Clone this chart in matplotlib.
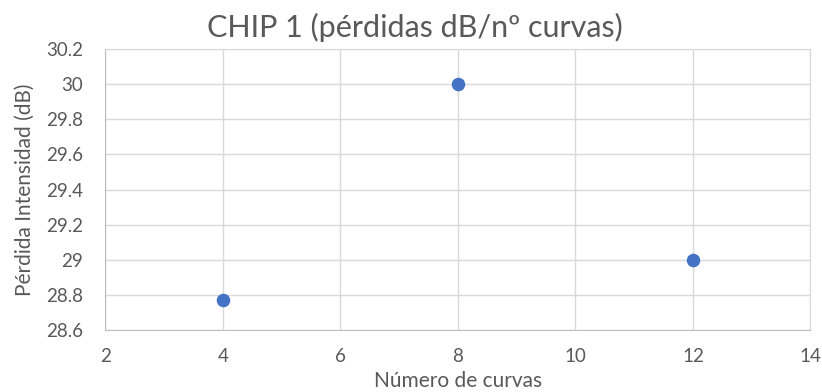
import matplotlib
matplotlib.use("Agg")
import matplotlib.pyplot as plt

# Loss measurements for CHIP 1
curvas = [4, 8, 12]
perdidas_db = [28.77, 30.0, 29.0]

x_ticks = [2, 4, 6, 8, 10, 12, 14]
y_ticks = [28.6, 28.8, 29.0, 29.2, 29.4, 29.6, 29.8, 30.0, 30.2]
y_labels = ["28.6", "28.8", "29", "29.2", "29.4", "29.6", "29.8", "30", "30.2"]

plt.rcParams["font.family"] = ["Lato", "DejaVu Sans"]
text_color = "#595959"
grid_color = "#D9D9D9"

fig = plt.figure(figsize=(8.22, 3.92), dpi=100)
ax = fig.add_axes([0.128, 0.158, 0.858, 0.717])

ax.scatter(curvas, perdidas_db, s=95, color="#4472C4", zorder=3, linewidths=0)

ax.set_xlim(2, 14)
ax.set_ylim(28.6, 30.2)
ax.set_xticks(x_ticks)
ax.set_yticks(y_ticks)
ax.set_yticklabels(y_labels)
ax.grid(True, color=grid_color, linewidth=1)
ax.set_axisbelow(True)
for side in ax.spines.values():
    side.set_color(grid_color)
ax.spines["left"].set_color("#BFBFBF")
ax.spines["bottom"].set_color("#BFBFBF")
ax.tick_params(length=0, labelsize=13.5, colors=text_color)
ax.tick_params(axis="y", pad=16)
ax.tick_params(axis="x", pad=13)

ax.set_xlabel("Número de curvas", fontsize=15, color=text_color)
ax.xaxis.set_label_coords(0.5, -0.145)
ax.set_ylabel("Pérdida Intensidad (dB)", fontsize=15, color=text_color)
ax.yaxis.set_label_coords(-0.1, 0.5)
fig.text(0.505, 0.93, "CHIP 1 (pérdidas dB/nº curvas)", ha="center", va="center",
         fontsize=22, color=text_color)

fig.savefig("out.png", dpi=100)
